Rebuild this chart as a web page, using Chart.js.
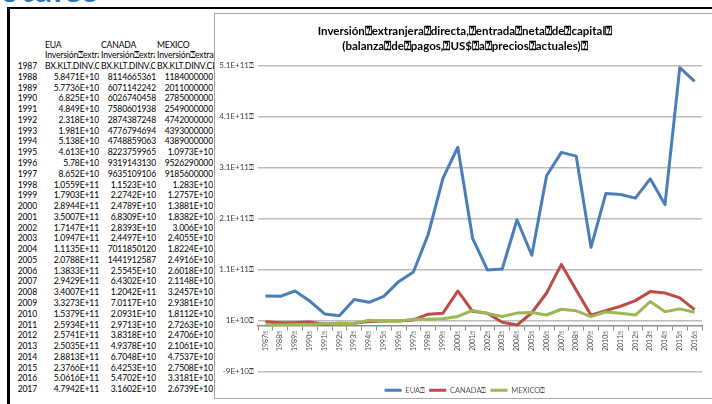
<!DOCTYPE html>
<html>
<head>
<meta charset="utf-8">
<script src="https://cdn.jsdelivr.net/npm/chart.js@4.4.0/dist/chart.umd.min.js"></script>
<style>
  body { margin: 0; width: 712px; height: 404px; overflow: hidden; background: #fff; position: relative; font-family: Lato, "Liberation Sans", sans-serif; }
  #sheetTitle { position: absolute; left: -18px; top: -32px; font: bold 34px Lato, sans-serif; color: #2e75b6; white-space: nowrap; letter-spacing: 1.5px; }
  #hline { position: absolute; left: 7px; top: 7px; width: 705px; height: 2px; background: #000; }
  #vline { position: absolute; left: 7px; top: 7px; width: 3px; height: 397px; background: #000; }
  #sheet { position: absolute; left: 0; top: 0; font-size: 8.6px; letter-spacing: -0.15px; color: #000; }
  .c { position: absolute; white-space: nowrap; overflow: hidden; height: 11px; line-height: 11px; }
  .r { text-align: right; }
  #boxBg { position: absolute; left: 214px; top: 13px; width: 520px; height: 387px; background: #fff; }
  #boxLine { position: absolute; left: 214px; top: 13px; width: 520px; height: 386px; border: 1.5px solid #a8a8a8; box-sizing: border-box; pointer-events: none; }
  #chart { position: absolute; left: 215px; top: 14px; }
</style>
</head>
<body>
<div id="sheetTitle">Totales</div>
<div id="sheet"></div>
<div id="hline"></div>
<div id="vline"></div>
<div id="boxBg"></div>
<canvas id="chart" width="500" height="390"></canvas>
<div id="boxLine"></div>
<script>
// ======================
// DATA
// ======================
const BOX = "\u2370";

const years = ["1987", "1988", "1989", "1990", "1991", "1992", "1993", "1994", "1995", "1996",
  "1997", "1998", "1999", "2000", "2001", "2002", "2003", "2004", "2005", "2006",
  "2007", "2008", "2009", "2010", "2011", "2012", "2013", "2014", "2015", "2016"];

const eua = [5.8471e10, 5.7736e10, 6.825e10, 4.849e10, 2.318e10, 1.981e10, 5.138e10, 4.613e10, 5.78e10, 8.652e10,
  1.0559e11, 1.7903e11, 2.8944e11, 3.5007e11, 1.7147e11, 1.0947e11, 1.1135e11, 2.0788e11, 1.3833e11, 2.9429e11,
  3.4007e11, 3.3273e11, 1.5379e11, 2.5934e11, 2.5741e11, 2.5035e11, 2.8813e11, 2.3766e11, 5.0616e11, 4.7942e11];

const canada = [8114665361, 6071142242, 6026740458, 7580601938, 2874387248, 4776794694, 4748859063, 8223759965, 9319143130, 9635109106,
  1.1523e10, 2.2742e10, 2.4789e10, 6.8309e10, 2.8393e10, 2.4497e10, 7011850120, 1441912587, 2.5545e10, 6.4302e10,
  1.2042e11, 7.0117e10, 2.0931e10, 2.9713e10, 3.8318e10, 4.9378e10, 6.7048e10, 6.4253e10, 5.4702e10, 3.1602e10];

const mexico = [1184000000, 2011000000, 2785000000, 2549000000, 4742000000, 4393000000, 4389000000, 1.0973e10, 9526290000, 9185600000,
  1.283e10, 1.2757e10, 1.3881e10, 1.8382e10, 3.006e10, 2.4055e10, 1.8224e10, 2.4916e10, 2.6018e10, 2.1148e10,
  3.2457e10, 2.9381e10, 1.8112e10, 2.7263e10, 2.4706e10, 2.1061e10, 4.7537e10, 2.7508e10, 3.3181e10, 2.6739e10];

const seriesNames = ["EUA", "CANADA", "MEXICO"];
const yTicks = [-9e10, 1e10, 1.1e11, 2.1e11, 3.1e11, 4.1e11, 5.1e11];
const yTickLabels = ["-9E+10", "1E+10", "1.1E+11", "2.1E+11", "3.1E+11", "4.1E+11", "5.1E+11"];
const indicator = "Inversión extranjera directa, entrada neta de capital (balanza de pagos, US$ a precios actuales)";
const indicatorCode = "BX.KLT.DINV.CD.WD";
const titleLines = ["Inversión extranjera directa, entrada neta de capital ", "(balanza de pagos, US$ a precios actuales) "];

const colors = ["#4a7ebb", "#be4b48", "#98b954"];
const boxed = (s) => s.replace(/ /g, BOX);

// ======================
// SHEET (left table)
// ======================
const $ = (id) => document.getElementById(id);
const rowTop = (r) => 39.5 + r * 10.77;

function excelGeneral(v) {
  if (v < 1e10) return String(Math.round(v));
  let [m, e] = v.toExponential(4).split("e");
  m = m.replace(/\.?0+$/, "");
  return m + "E+" + e.replace("+", "");
}

function cell(text, left, width, r, right) {
  const d = document.createElement("div");
  d.className = "c" + (right ? " r" : "");
  d.style.left = left + "px";
  d.style.width = width + "px";
  d.style.top = rowTop(r) + "px";
  d.textContent = text;
  $("sheet").appendChild(d);
}

// column edges: year | EUA | CANADA | MEXICO
const textCols = [[45, 54], [101, 54], [157, 57]];
const numCols = [[43, 56], [99, 57], [157, 56]];
seriesNames.forEach((name, i) => {
  cell(name, textCols[i][0], textCols[i][1], 0);
  cell(boxed(indicator), textCols[i][0], textCols[i][1], 1);
  cell(indicatorCode, textCols[i][0], textCols[i][1], 2);
});
cell(years[0], 10, 27, 2, true);
[eua, canada, mexico].forEach((arr, i) => {
  arr.forEach((v, k) => cell(excelGeneral(v), numCols[i][0], numCols[i][1], k + 3, true));
});
years.forEach((y, k) => cell(String(Number(y) + 1), 10, 27, k + 3, true));

// ======================
// CHART
// ======================
const ds = [eua, canada, mexico].map((arr, i) => ({
  label: boxed(seriesNames[i] + " "),
  data: arr,
  borderColor: colors[i],
  backgroundColor: colors[i],
  borderWidth: 3,
  pointRadius: 0,
  tension: 0,
  borderJoinStyle: "round",
  order: 3 - i,
}));

new Chart($("chart").getContext("2d"), {
  type: "line",
  data: { labels: years, datasets: ds },
  options: {
    responsive: false,
    animation: false,
    devicePixelRatio: 1,
    layout: { padding: { left: 0, right: 0, top: 0, bottom: 0 } },
    plugins: {
      tooltip: { enabled: false },
      title: {
        display: true,
        text: titleLines.map(boxed),
        color: "#000",
        font: { family: "Lato", size: 11.5, weight: "bold", lineHeight: 15 / 11.5 },
        padding: { top: 10, bottom: 11.7 },
      },
      legend: {
        position: "bottom",
        title: { display: true, text: "", font: { size: 1 }, padding: { top: 9.6, bottom: 0 } },
        labels: {
          usePointStyle: true,
          pointStyle: "line",
          pointStyleWidth: 17,
          padding: 4,
          color: "#595959",
          font: { family: "Lato", size: 7.5 },
          sort: (a, b) => a.datasetIndex - b.datasetIndex,
        },
      },
    },
    scales: {
      x: {
        position: { y: 0 },
        offset: true,
        grid: { display: true, drawOnChartArea: false, drawTicks: true, tickLength: 4, offset: true, color: "#8c8c8c", lineWidth: 1 },
        border: { display: true, color: "#8c8c8c", width: 1.5 },
        ticks: {
          autoSkip: false,
          minRotation: 90,
          maxRotation: 90,
          padding: 1,
          color: "#4d4d4d",
          font: { family: "Lato", size: 7 },
          callback: (v, i) => years[i] + BOX,
        },
      },
      y: {
        min: yTicks[0],
        max: yTicks[yTicks.length - 1],
        afterBuildTicks: (scale) => { scale.ticks = yTicks.map((v) => ({ value: v })); },
        afterFit: (scale) => { scale.width = 43; },
        grid: { color: "#bdbdbd", lineWidth: 1.5, drawTicks: false },
        border: { display: false },
        ticks: {
          padding: 4,
          color: "#404040",
          font: { family: "Lato", size: 8 },
          callback: (v) => yTickLabels[yTicks.indexOf(v)] + BOX,
        },
      },
      // empty right margin so the title and legend stay centred on the whole box
      yRight: {
        position: "right",
        afterFit: (scale) => { scale.width = 13; },
        grid: { display: false },
        border: { display: false },
        ticks: { display: false },
      },
    },
  },
});
</script>
</body>
</html>
